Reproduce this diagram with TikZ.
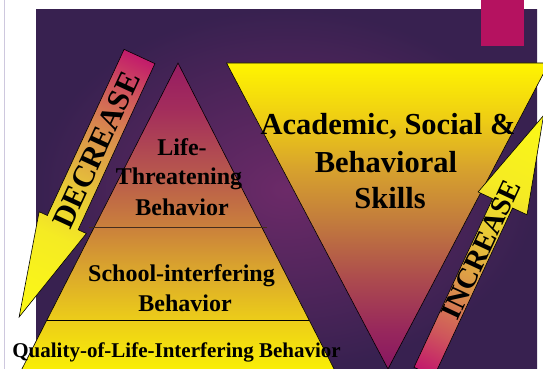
\documentclass[tikz,border=0pt]{standalone}
\usepackage{fontspec}
\setmainfont{Liberation Serif}

% ---- colours ----
\definecolor{bgin}{RGB}{108,42,104}
\definecolor{bgout}{RGB}{56,33,80}
\definecolor{tabmag}{RGB}{181,18,96}
\definecolor{rulegrey}{RGB}{206,200,222}
\definecolor{tierline}{RGB}{70,45,30}
% pyramid (bottom to top)
\definecolor{py0}{RGB}{250,240,5}
\definecolor{py1}{RGB}{236,205,25}
\definecolor{py2}{RGB}{218,165,45}
\definecolor{py3}{RGB}{202,128,60}
\definecolor{py4}{RGB}{182,85,78}
\definecolor{py5}{RGB}{163,45,92}
\definecolor{py6}{RGB}{150,28,98}
% inverted triangle (bottom to top)
\definecolor{iv0}{RGB}{135,22,98}
\definecolor{iv1}{RGB}{152,40,92}
\definecolor{iv2}{RGB}{172,75,78}
\definecolor{iv3}{RGB}{195,125,60}
\definecolor{iv4}{RGB}{215,162,45}
\definecolor{iv5}{RGB}{238,205,20}
\definecolor{iv6}{RGB}{255,245,0}
% block arrows (tail to tip)
\definecolor{ar0}{RGB}{194,24,108}
\definecolor{ar1}{RGB}{206,85,92}
\definecolor{ar2}{RGB}{218,145,75}
\definecolor{ar3}{RGB}{232,200,55}
\definecolor{ar4}{RGB}{245,235,35}
\definecolor{ar5}{RGB}{252,250,20}

\pgfdeclareverticalshading{pyrshade}{100bp}{%
  color(0bp)=(py0); color(25bp)=(py0); color(33.4bp)=(py1);
  color(41.7bp)=(py2); color(48.5bp)=(py3); color(57.8bp)=(py4);
  color(67.6bp)=(py5); color(75bp)=(py6); color(100bp)=(py6)}
\pgfdeclareverticalshading{invshade}{100bp}{%
  color(0bp)=(iv0); color(25bp)=(iv0); color(31.5bp)=(iv1);
  color(39.7bp)=(iv2); color(49.5bp)=(iv3); color(57.7bp)=(iv4);
  color(65.8bp)=(iv5); color(75bp)=(iv6); color(100bp)=(iv6)}
\pgfdeclarehorizontalshading{arrowshade}{70bp}{%
  color(0bp)=(ar0); color(40bp)=(ar1); color(90bp)=(ar2);
  color(150bp)=(ar3); color(200bp)=(ar4); color(292bp)=(ar5)}

\tikzset{
  outline/.style={draw=black, line width=0.6pt},
  pyrtext/.style={font=\fontsize{24}{28}\selectfont\bfseries, anchor=base, inner sep=0pt},
  skilltext/.style={font=\fontsize{30.5}{36}\selectfont\bfseries, anchor=base, inner sep=0pt},
  basetext/.style={font=\fontsize{21}{25}\selectfont\bfseries, anchor=base, inner sep=0pt},
  arrowtext/.style={font=\fontsize{31}{36}\selectfont\bfseries, inner sep=0pt, transform shape},
  shadefill/.style={inner sep=0pt, anchor=west, transform shape},
}

\begin{document}
\begin{tikzpicture}[x=1pt, y=1pt]
  \useasboundingbox (0,0) rectangle (543,369);
  \clip (0,0) rectangle (543,369);
  \fill[white] (0,0) rectangle (543,369);
  \draw[rulegrey, line width=0.8pt] (4,0) -- (4,369);

  % slide panel and corner tab
  \shade[inner color=bgin, outer color=bgout] (36,0) rectangle (537,359.7);
  \fill[tabmag] (481,323) rectangle (524,369);

  % pyramid of behaviours
  \shade[shading=pyrshade] (178,306) -- (335.6,-3) -- (20.4,-3) -- cycle;
  \draw[outline] (20.4,-3) -- (178,306) -- (335.6,-3);
  \draw[tierline, line width=0.8pt] (89,142) -- (267,142);
  \draw[black, line width=0.7pt] (47,49) -- (309,49);

  % inverted triangle of skills
  \shade[shading=invshade] (226.5,306) -- (549,306) -- (388,0) -- cycle;
  \draw[outline] (226.5,306) -- (549,306) -- (388,0) -- cycle;

  % DECREASE block arrow
  \begin{scope}[shift={(139.5,312.5)}, rotate=245.2]
    \begin{scope}
      \clip (0,-17) -- (183,-17) -- (183,-26) -- (287,0) -- (183,26) -- (183,17) -- (0,17) -- cycle;
      \node[shadefill] (decfill) at (-2,0) {\pgfuseshading{arrowshade}};
    \end{scope}
    \draw[outline, line join=miter] (0,-17) -- (183,-17) -- (183,-26) -- (287,0) -- (183,26) -- (183,17) -- (0,17) -- cycle;
    \node[arrowtext, rotate=180] (declabel) at (103,0) {DECREASE};
  \end{scope}

  % INCREASE block arrow
  \begin{scope}[shift={(426.5,2.5)}, rotate=65]
    \begin{scope}
      \clip (-6,-11) -- (180,-11) -- (180,-27) -- (277,0) -- (180,27) -- (180,11) -- (-6,11) -- cycle;
      \node[shadefill] (incfill) at (-6,0) {\pgfuseshading{arrowshade}};
    \end{scope}
    \draw[outline, line join=miter] (-6,-11) -- (180,-11) -- (180,-27) -- (277,0) -- (180,27) -- (180,11) -- (-6,11) -- cycle;
    \node[arrowtext, font=\fontsize{29}{34}\selectfont\bfseries] (inclabel) at (129,0) {INCREASE};
  \end{scope}

  % labels
  \node[skilltext] (skill1) at (388,234) {Academic, Social \&};
  \node[skilltext] (skill2) at (386,196) {Behavioral};
  \node[skilltext] (skill3) at (390,160) {Skills};

  \node[pyrtext] (life1) at (182,213) {Life-};
  \node[pyrtext] (life2) at (179,184) {Threatening};
  \node[pyrtext] (life3) at (182,153) {Behavior};
  \node[pyrtext] (school1) at (181.5,87) {School-interfering};
  \node[pyrtext] (school2) at (185,57) {Behavior};
  \node[basetext] (quality) at (176.5,11.5) {Quality-of-Life-Interfering Behavior};
\end{tikzpicture}
\end{document}
